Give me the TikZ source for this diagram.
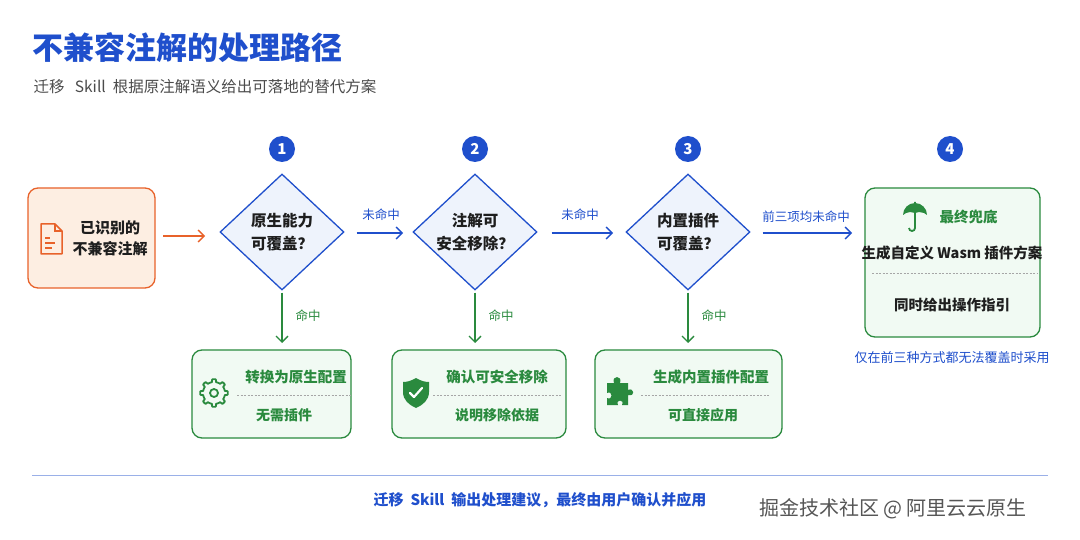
\documentclass[tikz,border=0pt]{standalone}
\usepackage{fontspec}
\setmainfont{Noto Sans CJK SC}
\usetikzlibrary{shapes.geometric,arrows.meta}
\definecolor{bl}{HTML}{1F4FCC}
\definecolor{gr}{HTML}{2A8A3E}
\definecolor{grf}{HTML}{F1FAF3}
\definecolor{orc}{HTML}{E8622A}
\definecolor{orf}{HTML}{FDEEE2}
\definecolor{dif}{HTML}{EEF3FC}
\definecolor{tx}{HTML}{1E1E1E}
\tikzset{
 dia/.style={diamond,draw=bl,fill=dif,line width=1.3pt,minimum width=124pt,minimum height=116pt,inner sep=0pt,align=center,font=\fontsize{15.5}{23}\selectfont\bfseries,text=tx},
 num/.style={circle,fill=bl,text=white,minimum size=26pt,inner sep=0pt,font=\fontsize{15}{15}\selectfont\bfseries},
 gbox/.style={draw=gr,fill=grf,line width=1.3pt,rounded corners=10pt},
 barr/.style={draw=bl,line width=1.3pt,-{Straight Barb[length=6pt,width=12pt]}},
 garr/.style={draw=gr,line width=1.3pt,-{Straight Barb[length=6pt,width=12pt]}},
 blab/.style={text=bl,font=\fontsize{12.5}{13}\selectfont},
 glab/.style={text=gr,font=\fontsize{12.5}{13}\selectfont},
 gt/.style={text=gr,font=\fontsize{14.5}{15}\selectfont\bfseries},
 dsh/.style={draw=gray!70,line width=0.6pt,dash pattern=on 2pt off 1.5pt},
}
\begin{document}
\begin{tikzpicture}[x=1pt,y=-1pt]
\useasboundingbox[fill=white] (0,0) rectangle (1080,540);
\node[anchor=west,text=bl,font=\fontsize{31}{32}\selectfont\bfseries] (title) at (29,48) {不兼容注解的处理路径};
\node[anchor=west,text=tx!80,font=\fontsize{15.5}{16}\selectfont] (sub) at (30,87) {迁移\ \ \ Skill\ \ 根据原注解语义给出可落地的替代方案};
% input box
\node[draw=orc,fill=orf,line width=1.3pt,rounded corners=10pt,minimum width=127pt,minimum height=100pt] (in) at (91.5,238) {};
\node[align=center,font=\fontsize{15}{21}\selectfont\bfseries,text=tx] (intx) at (110,238) {已识别的\\不兼容注解};
\draw[orc,line width=1.5pt,line join=round] (41,224) -- (55,224) -- (62,231) -- (62,254) -- (41,254) -- cycle;
\draw[orc,line width=1.5pt] (55,224) -- (55,231) -- (62,231);
\draw[orc,line width=1.3pt] (45,238)--(50,238) (45,243)--(55,243) (45,248)--(52,248);
% diamonds
\node[dia] (d1) at (282,232) {原生能力\\可覆盖？};
\node[dia] (d2) at (475,232) {注解可\\安全移除？};
\node[dia] (d3) at (688,232) {内置插件\\可覆盖？};
\node[num] (n1) at (282,149) {1};
\node[num] (n2) at (475,149) {2};
\node[num] (n3) at (688,149) {3};
\node[num] (n4) at (950,149) {4};
\coordinate (a0s) at (163,236); \coordinate (a0e) at (205,236);
\draw[orc,line width=1.3pt,-{Straight Barb[length=6pt,width=12pt]}] (a0s) -- (a0e);
\draw[barr] (d1.east) ++(12,1) coordinate (s1) -- (403,233) coordinate (e1);
\node[blab] (l1) at (381,215) {未命中};
\draw[barr] (d2.east) ++(14,1) coordinate (s2) -- (613,233);
\node[blab] (l2) at (580,215) {未命中};
\draw[barr] (d3.east) ++(12,1) coordinate (s3) -- (852,233);
\node[blab] (l3) at (806,217) {前三项均未命中};
% final box
\node[gbox,minimum width=175pt,minimum height=149pt] (fb) at (952.5,262.5) {};
\node[gt,anchor=west] (fbt) at (936,217) {最终兜底};
\fill[gr] (903,215) arc (180:360:12) -- (924,213) -- (919,212)-- (915,213) -- (910,212) -- (906,213)--cycle;
\draw[gr,line width=1.8pt] (915,202) -- (915,228) arc (0:180:3);
\node[font=\fontsize{14.5}{15}\selectfont\bfseries,text=tx] (fb1) at (952,253) {生成自定义 Wasm 插件方案};
\draw[dsh] (872,273) -- (1038,273);
\node[font=\fontsize{14.5}{15}\selectfont\bfseries,text=tx] (fb2) at (952,305) {同时给出操作指引};
\node[blab,font=\fontsize{13}{13}\selectfont] (cap) at (952,358) {仅在前三种方式都无法覆盖时采用};
% down arrows
\foreach \d/\x in {d1/282,d2/475,d3/688}{
 \draw[garr] (\d.south) ++(0,2) -- (\x,343);
 \node[glab] at (\x+26,316) {命中};
}
% green boxes
\node[gbox,minimum width=159pt,minimum height=88pt] (g1) at (271.5,394) {};
\node[gbox,minimum width=174pt,minimum height=88pt] (g2) at (479,394) {};
\node[gbox,minimum width=187pt,minimum height=88pt] (g3) at (688.5,394) {};
\node[gt] (g1a) at (296,377) {转换为原生配置};
\draw[dsh] (237,395) -- (351,395);
\node[gt,font=\fontsize{14}{15}\selectfont\bfseries] (g1b) at (284,415) {无需插件};
\node[gt] (g2a) at (497,377) {确认可安全移除};
\draw[dsh] (433,395) -- (562,395);
\node[gt,font=\fontsize{14}{15}\selectfont\bfseries] (g2b) at (497,415) {说明移除依据};
\node[gt] (g3a) at (711,377) {生成内置插件配置};
\draw[dsh] (641,395) -- (770,395);
\node[gt,font=\fontsize{14}{15}\selectfont\bfseries] (g3b) at (703,415) {可直接应用};
% gear
\begin{scope}[shift={(214,393)}]
 \draw[gr,line width=1.8pt,line join=round] plot[domain=0:360,samples=97] (\x:{11+2.8*(cos(8*\x)>0?1:0)}) -- cycle;
 \draw[gr,line width=1.8pt] (0,0) circle (4);
\end{scope}
% shield
\begin{scope}[shift={(416,392)}]
 \fill[gr] (0,-14) .. controls (5,-11) and (9,-10) .. (13,-10) -- (13,0) .. controls (13,8) and (7,13) .. (0,16) .. controls (-7,13) and (-13,8) .. (-13,0) -- (-13,-10) .. controls (-9,-10) and (-5,-11) .. (0,-14) -- cycle;
 \draw[white,line width=2.2pt,line cap=round,line join=round] (-6,1) -- (-2,5) -- (6,-4);
\end{scope}
% puzzle
\begin{scope}[shift={(620,393)}]
 \fill[gr] (-13,-10) -- (-6,-10) .. controls (-9,-18) and (3,-18) .. (0,-10) -- (8,-10) -- (8,-3) .. controls (14,-6) and (16,4) .. (8,2) -- (8,12) -- (2,12) .. controls (5,6) and (-5,6) .. (-2,12) -- (-13,12) -- (-13,5) .. controls (-7,8) and (-7,-3) .. (-13,0) -- cycle;
\end{scope}
% bottom
\draw[bl!45,line width=1pt] (32,475) coordinate (bl1) -- (1048,475) coordinate (bl2);
\node[text=bl,font=\fontsize{15}{16}\selectfont\bfseries] (foot) at (540,500) {迁移\ \ Skill\ \ 输出处理建议，最终由用户确认并应用};
\node[text=tx!75,font=\fontsize{20}{20}\selectfont] (wm) at (893,509) {掘金技术社区 @ 阿里云云原生};
\end{tikzpicture}
\end{document}
